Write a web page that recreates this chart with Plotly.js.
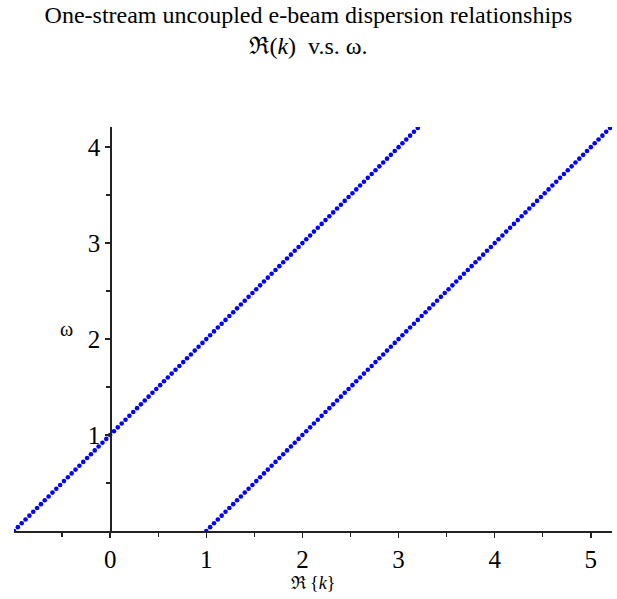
<!DOCTYPE html>
<html>
<head>
<meta charset="utf-8">
<script src="https://cdn.plot.ly/plotly-3.0.1.min.js"></script>
<style>
  html, body { margin: 0; padding: 0; background: #fff; }
  #plot { width: 617px; height: 599px; }
</style>
</head>
<body>
<div id="plot"></div>
<script>
// Sampled frequencies ω (shared by both beam branches)
const omega = [
  0, 0.04, 0.08, 0.12, 0.16, 0.2, 0.24, 0.28, 0.32, 0.36,
  0.4, 0.44, 0.48, 0.52, 0.56, 0.6, 0.64, 0.68, 0.72, 0.76,
  0.8, 0.84, 0.88, 0.92, 0.96, 1, 1.04, 1.08, 1.12, 1.16,
  1.2, 1.24, 1.28, 1.32, 1.36, 1.4, 1.44, 1.48, 1.52, 1.56,
  1.6, 1.64, 1.68, 1.72, 1.76, 1.8, 1.84, 1.88, 1.92, 1.96,
  2, 2.04, 2.08, 2.12, 2.16, 2.2, 2.24, 2.28, 2.32, 2.36,
  2.4, 2.44, 2.48, 2.52, 2.56, 2.6, 2.64, 2.68, 2.72, 2.76,
  2.8, 2.84, 2.88, 2.92, 2.96, 3, 3.04, 3.08, 3.12, 3.16,
  3.2, 3.24, 3.28, 3.32, 3.36, 3.4, 3.44, 3.48, 3.52, 3.56,
  3.6, 3.64, 3.68, 3.72, 3.76, 3.8, 3.84, 3.88, 3.92, 3.96,
  4, 4.04, 4.08, 4.12, 4.16, 4.2
];

// Re(k) of the slow branch (left line)
const kSlow = [
  -1, -0.96, -0.92, -0.88, -0.84, -0.8, -0.76, -0.72, -0.68, -0.64,
  -0.6, -0.56, -0.52, -0.48, -0.44, -0.4, -0.36, -0.32, -0.28, -0.24,
  -0.2, -0.16, -0.12, -0.08, -0.04, 0, 0.04, 0.08, 0.12, 0.16,
  0.2, 0.24, 0.28, 0.32, 0.36, 0.4, 0.44, 0.48, 0.52, 0.56,
  0.6, 0.64, 0.68, 0.72, 0.76, 0.8, 0.84, 0.88, 0.92, 0.96,
  1, 1.04, 1.08, 1.12, 1.16, 1.2, 1.24, 1.28, 1.32, 1.36,
  1.4, 1.44, 1.48, 1.52, 1.56, 1.6, 1.64, 1.68, 1.72, 1.76,
  1.8, 1.84, 1.88, 1.92, 1.96, 2, 2.04, 2.08, 2.12, 2.16,
  2.2, 2.24, 2.28, 2.32, 2.36, 2.4, 2.44, 2.48, 2.52, 2.56,
  2.6, 2.64, 2.68, 2.72, 2.76, 2.8, 2.84, 2.88, 2.92, 2.96,
  3, 3.04, 3.08, 3.12, 3.16, 3.2
];

// Re(k) of the fast branch (right line)
const kFast = [
  1, 1.04, 1.08, 1.12, 1.16, 1.2, 1.24, 1.28, 1.32, 1.36,
  1.4, 1.44, 1.48, 1.52, 1.56, 1.6, 1.64, 1.68, 1.72, 1.76,
  1.8, 1.84, 1.88, 1.92, 1.96, 2, 2.04, 2.08, 2.12, 2.16,
  2.2, 2.24, 2.28, 2.32, 2.36, 2.4, 2.44, 2.48, 2.52, 2.56,
  2.6, 2.64, 2.68, 2.72, 2.76, 2.8, 2.84, 2.88, 2.92, 2.96,
  3, 3.04, 3.08, 3.12, 3.16, 3.2, 3.24, 3.28, 3.32, 3.36,
  3.4, 3.44, 3.48, 3.52, 3.56, 3.6, 3.64, 3.68, 3.72, 3.76,
  3.8, 3.84, 3.88, 3.92, 3.96, 4, 4.04, 4.08, 4.12, 4.16,
  4.2, 4.24, 4.28, 4.32, 4.36, 4.4, 4.44, 4.48, 4.52, 4.56,
  4.6, 4.64, 4.68, 4.72, 4.76, 4.8, 4.84, 4.88, 4.92, 4.96,
  5, 5.04, 5.08, 5.12, 5.16, 5.2
];

// Tick positions
const xTicks = [0, 1, 2, 3, 4, 5];
const xMinorTicks = [-0.5, 0.5, 1.5, 2.5, 3.5, 4.5];
const yTicks = [1, 2, 3, 4];
const yMinorTicks = [0.5, 1.5, 2.5, 3.5];

const xRange = [-1.0, 5.22];
const yRange = [0, 4.21];

const serif = '"Liberation Serif", "Times New Roman", serif';
const axisColor = '#222';

const dotStyle = { color: '#0000ff', size: 4.6, line: { width: 0 } };

const traces = [
  { x: kSlow, y: omega, type: 'scatter', mode: 'markers', marker: dotStyle, hoverinfo: 'skip' },
  { x: kFast, y: omega, type: 'scatter', mode: 'markers', marker: dotStyle, hoverinfo: 'skip' }
];

const layout = {
  width: 617,
  height: 599,
  paper_bgcolor: '#fff',
  plot_bgcolor: '#fff',
  showlegend: false,
  margin: { l: 14, r: 5, t: 127, b: 68 },
  font: { family: serif, color: '#000' },
  title: {
    text: 'One-stream uncoupled e-beam dispersion relationships<br>ℜ(<i>k</i>)  v.s. ω.',
    font: { family: serif, size: 24, color: '#000' },
    x: 0.5, xanchor: 'center',
    y: 0.962, yref: 'container', yanchor: 'middle'
  },
  xaxis: {
    range: xRange,
    showgrid: false,
    zeroline: false,
    showline: true,
    linecolor: axisColor,
    linewidth: 1.6,
    tickmode: 'array',
    tickvals: xTicks,
    ticktext: xTicks.map(String),
    ticks: 'outside',
    ticklen: 5,
    tickwidth: 1.4,
    tickcolor: axisColor,
    tickfont: { family: serif, size: 25, color: '#000' },
    minor: { tickmode: 'array', tickvals: xMinorTicks, ticks: 'outside', ticklen: 4, tickwidth: 1.4, tickcolor: axisColor, showgrid: false },
    title: { text: 'ℜ {<i>k</i>}', font: { family: serif, size: 18, color: '#000' }, standoff: 2 }
  },
  yaxis: {
    range: yRange,
    anchor: 'free',
    position: (0 - xRange[0]) / (xRange[1] - xRange[0]),
    showgrid: false,
    zeroline: false,
    showline: true,
    linecolor: axisColor,
    linewidth: 1.6,
    tickmode: 'array',
    tickvals: yTicks,
    ticktext: yTicks.map(String),
    ticks: 'outside',
    ticklen: 5,
    tickwidth: 1.4,
    tickcolor: axisColor,
    tickfont: { family: serif, size: 25, color: '#000' },
    minor: { tickmode: 'array', tickvals: yMinorTicks, ticks: 'outside', ticklen: 4, tickwidth: 1.4, tickcolor: axisColor, showgrid: false }
  },
  annotations: [
    {
      text: 'ω',
      xref: 'paper', yref: 'paper',
      x: (-0.45 - xRange[0]) / (xRange[1] - xRange[0]),
      y: 2.1 / yRange[1],
      xanchor: 'center', yanchor: 'middle',
      showarrow: false,
      font: { family: serif, size: 20, color: '#000' }
    }
  ]
};

Plotly.newPlot('plot', traces, layout, { displayModeBar: false, staticPlot: true });
</script>
</body>
</html>
